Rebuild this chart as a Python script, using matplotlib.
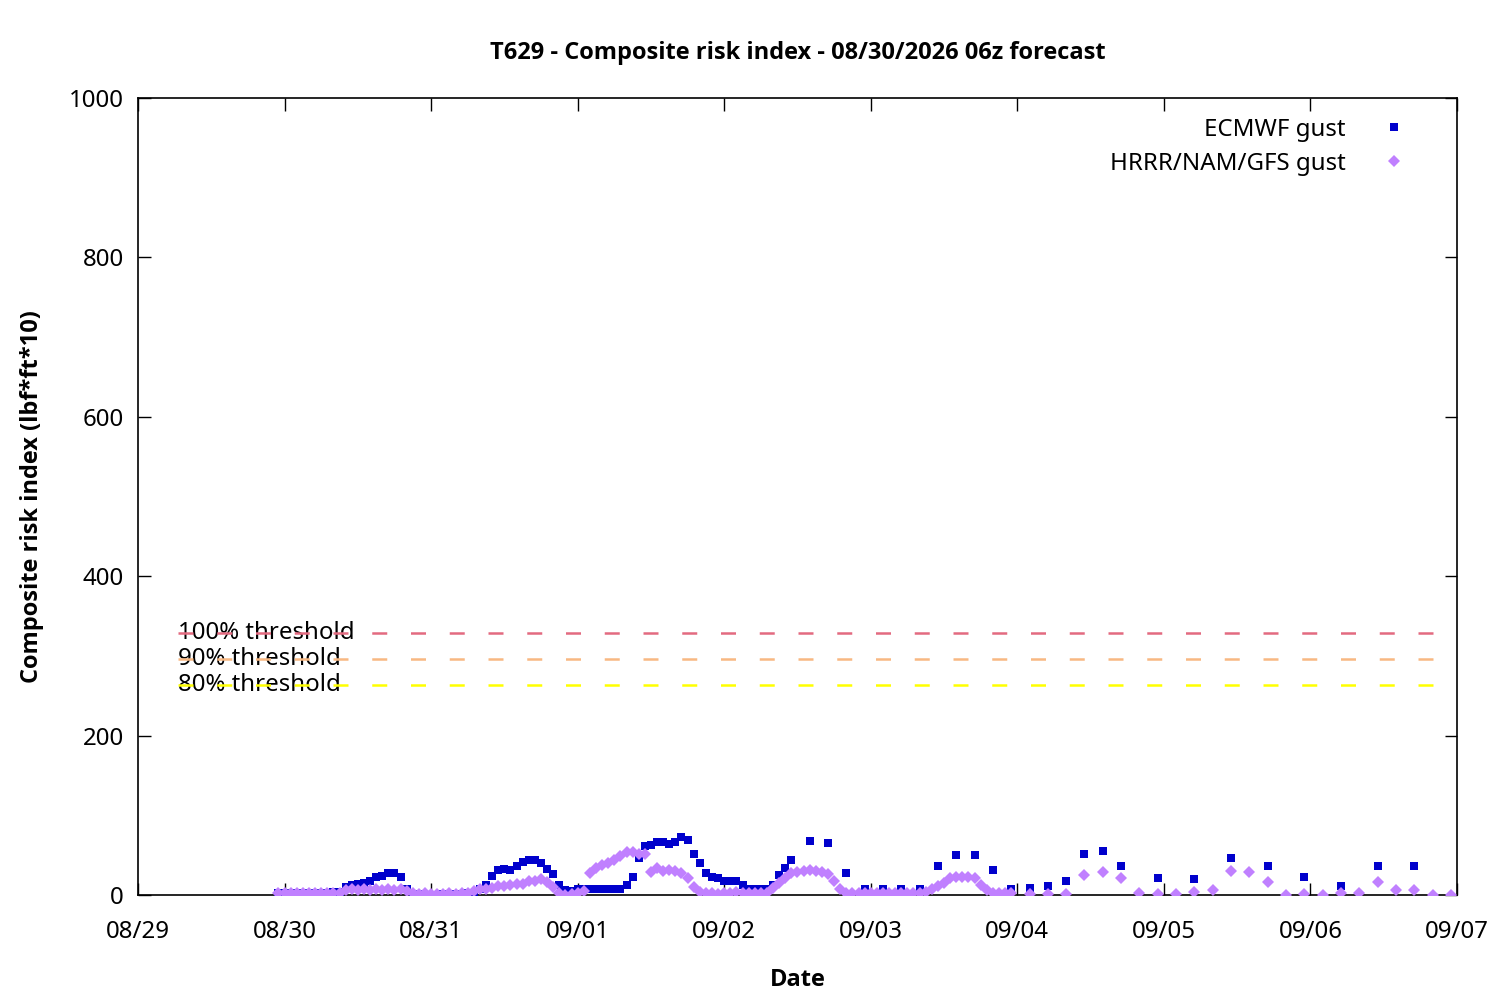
import numpy as np
import pandas as pd
import matplotlib
matplotlib.use('Agg')
import matplotlib.pyplot as plt
import matplotlib.dates as mdates

plt.rcParams['font.family'] = ['Noto Sans', 'DejaVu Sans']
bold_font = ['Open Sans', 'DejaVu Sans']

# hours after 08/30 00 local time (06z run starts at 23 local)
base = pd.Timestamp('2026-08-30 00:00')

ecmwf_hours = list(range(-1, 84)) + list(range(86, 138, 3)) + list(range(143, 186, 6))
ecmwf_vals = [
    3, 3, 2, 3, 3, 3, 3, 3, 3, 4, 4,
    10, 13, 14, 15, 17, 22, 24, 27, 27, 23, 8,
    1, 1, 0, 0, 0, 1, 1, 1, 1, 2, 3,
    7, 12, 24, 31, 33, 31, 36, 42, 44, 44, 40, 33, 26, 12, 6, 5, 7,
    7, 7, 7, 7, 7, 7, 8,
    12, 23, 46, 61, 63, 66, 66, 64, 67, 73, 69, 51, 40, 27, 23, 21,
    18, 17, 17, 12, 8, 8, 7, 7, 13, 25, 34, 44,
    # 3-hourly
    68, 65, 28, 7, 7, 8, 8, 36, 50, 50, 31, 7, 9, 11, 18, 51, 55, 36,
    # 6-hourly
    21, 20, 46, 36, 22, 11, 37, 37,
]

blend_hours = list(range(-1, 120)) + list(range(122, 192, 3))
blend_vals = [
    2, 3, 2, 3, 2, 3, 2, 3, 2, 3, 3,
    6, 7, 6, 7, 6, 7, 6, 7, 6, 7, 5,
    2, 1, 2, 1, 1, 1, 2, 1, 2, 2,
    5, 7, 8, 9, 11, 11, 12, 14, 14, 17, 18, 20, 16, 10, 3, 0, 1, 3, 5,
    27, 34, 38, 40, 44, 49, 54, 54, 51, 52,
    29, 34, 30, 31, 30, 27, 21, 10, 4,
    2, 3, 1, 3, 2, 4, 2, 3, 2, 3, 3,
    9, 15, 21, 27, 29, 30, 31, 30, 29, 26, 17, 8,
    3, 2, 3, 2, 2, 3, 2, 2, 3, 2, 3, 2, 3, 4,
    8, 11, 15, 21, 23, 23, 22, 21, 12, 6,
    3, 2, 3, 2,
    # 3-hourly
    1, 1, 1, 25, 29, 21, 2, 1, 1, 4, 6, 30, 29, 16, 0, 1, 0, 3, 3, 16, 6, 6, 0, 0,
]

thresh_vals = [329, 296, 263]
thresh_labels = ['100% threshold', '90% threshold', '80% threshold']
thresh_colors = ['#e36a80', '#f8b882', '#ffff00']

ecmwf_t = base + pd.to_timedelta(ecmwf_hours, unit='h')
blend_t = base + pd.to_timedelta(blend_hours, unit='h')

fig = plt.figure(figsize=(15, 10), dpi=100)
ax = fig.add_axes([0.092, 0.105, 0.8793, 0.797])

for v, lab, c in zip(thresh_vals, thresh_labels, thresh_colors):
    ax.text(0.030, v, lab, transform=ax.get_yaxis_transform(), fontsize=17.3,
            va='center', ha='left', zorder=2)
    ax.axhline(v, xmin=0.030, xmax=0.991, color=c, lw=1.8,
               linestyle=(0, (6, 9.5)), zorder=3)

ax.plot(ecmwf_t, ecmwf_vals, 's', color='#0000cc', markersize=6.2,
        markeredgewidth=0, label='ECMWF gust', zorder=4)
ax.plot(blend_t, blend_vals, 'D', color='#c080ff', markersize=6.0,
        markeredgewidth=0, label='HRRR/NAM/GFS gust', zorder=5)

ax.set_xlim(pd.Timestamp('2026-08-29'), pd.Timestamp('2026-09-07'))
ax.set_ylim(0, 1000)
ax.xaxis.set_major_locator(mdates.DayLocator())
ax.xaxis.set_major_formatter(mdates.DateFormatter('%m/%d'))
ax.set_yticks(range(0, 1001, 200))
ax.tick_params(direction='in', length=9, width=1, top=True, right=True,
               labelsize=17.3)
ax.tick_params(axis='x', pad=18)
ax.tick_params(axis='y', pad=10)
for s in ax.spines.values():
    s.set_linewidth(1.2)

ax.set_title('T629 - Composite risk index - 08/30/2026 06z forecast',
             fontsize=17, fontweight='bold', family=bold_font, pad=28)
ax.set_xlabel('Date', fontsize=17, fontweight='bold', family=bold_font,
              labelpad=17)
ax.set_ylabel('Composite risk index (lbf*ft*10)', fontsize=17,
              fontweight='bold', family=bold_font, labelpad=18)

leg = ax.legend(loc='upper right', bbox_to_anchor=(0.9734, 0.9875),
                frameon=False, markerfirst=False, fontsize=17.3,
                handletextpad=1.27, borderaxespad=0.0,
                labelspacing=0.42, handlelength=1.5)
for t in leg.get_texts():
    t.set_ha('right')

fig.savefig('out.png', dpi=100)
